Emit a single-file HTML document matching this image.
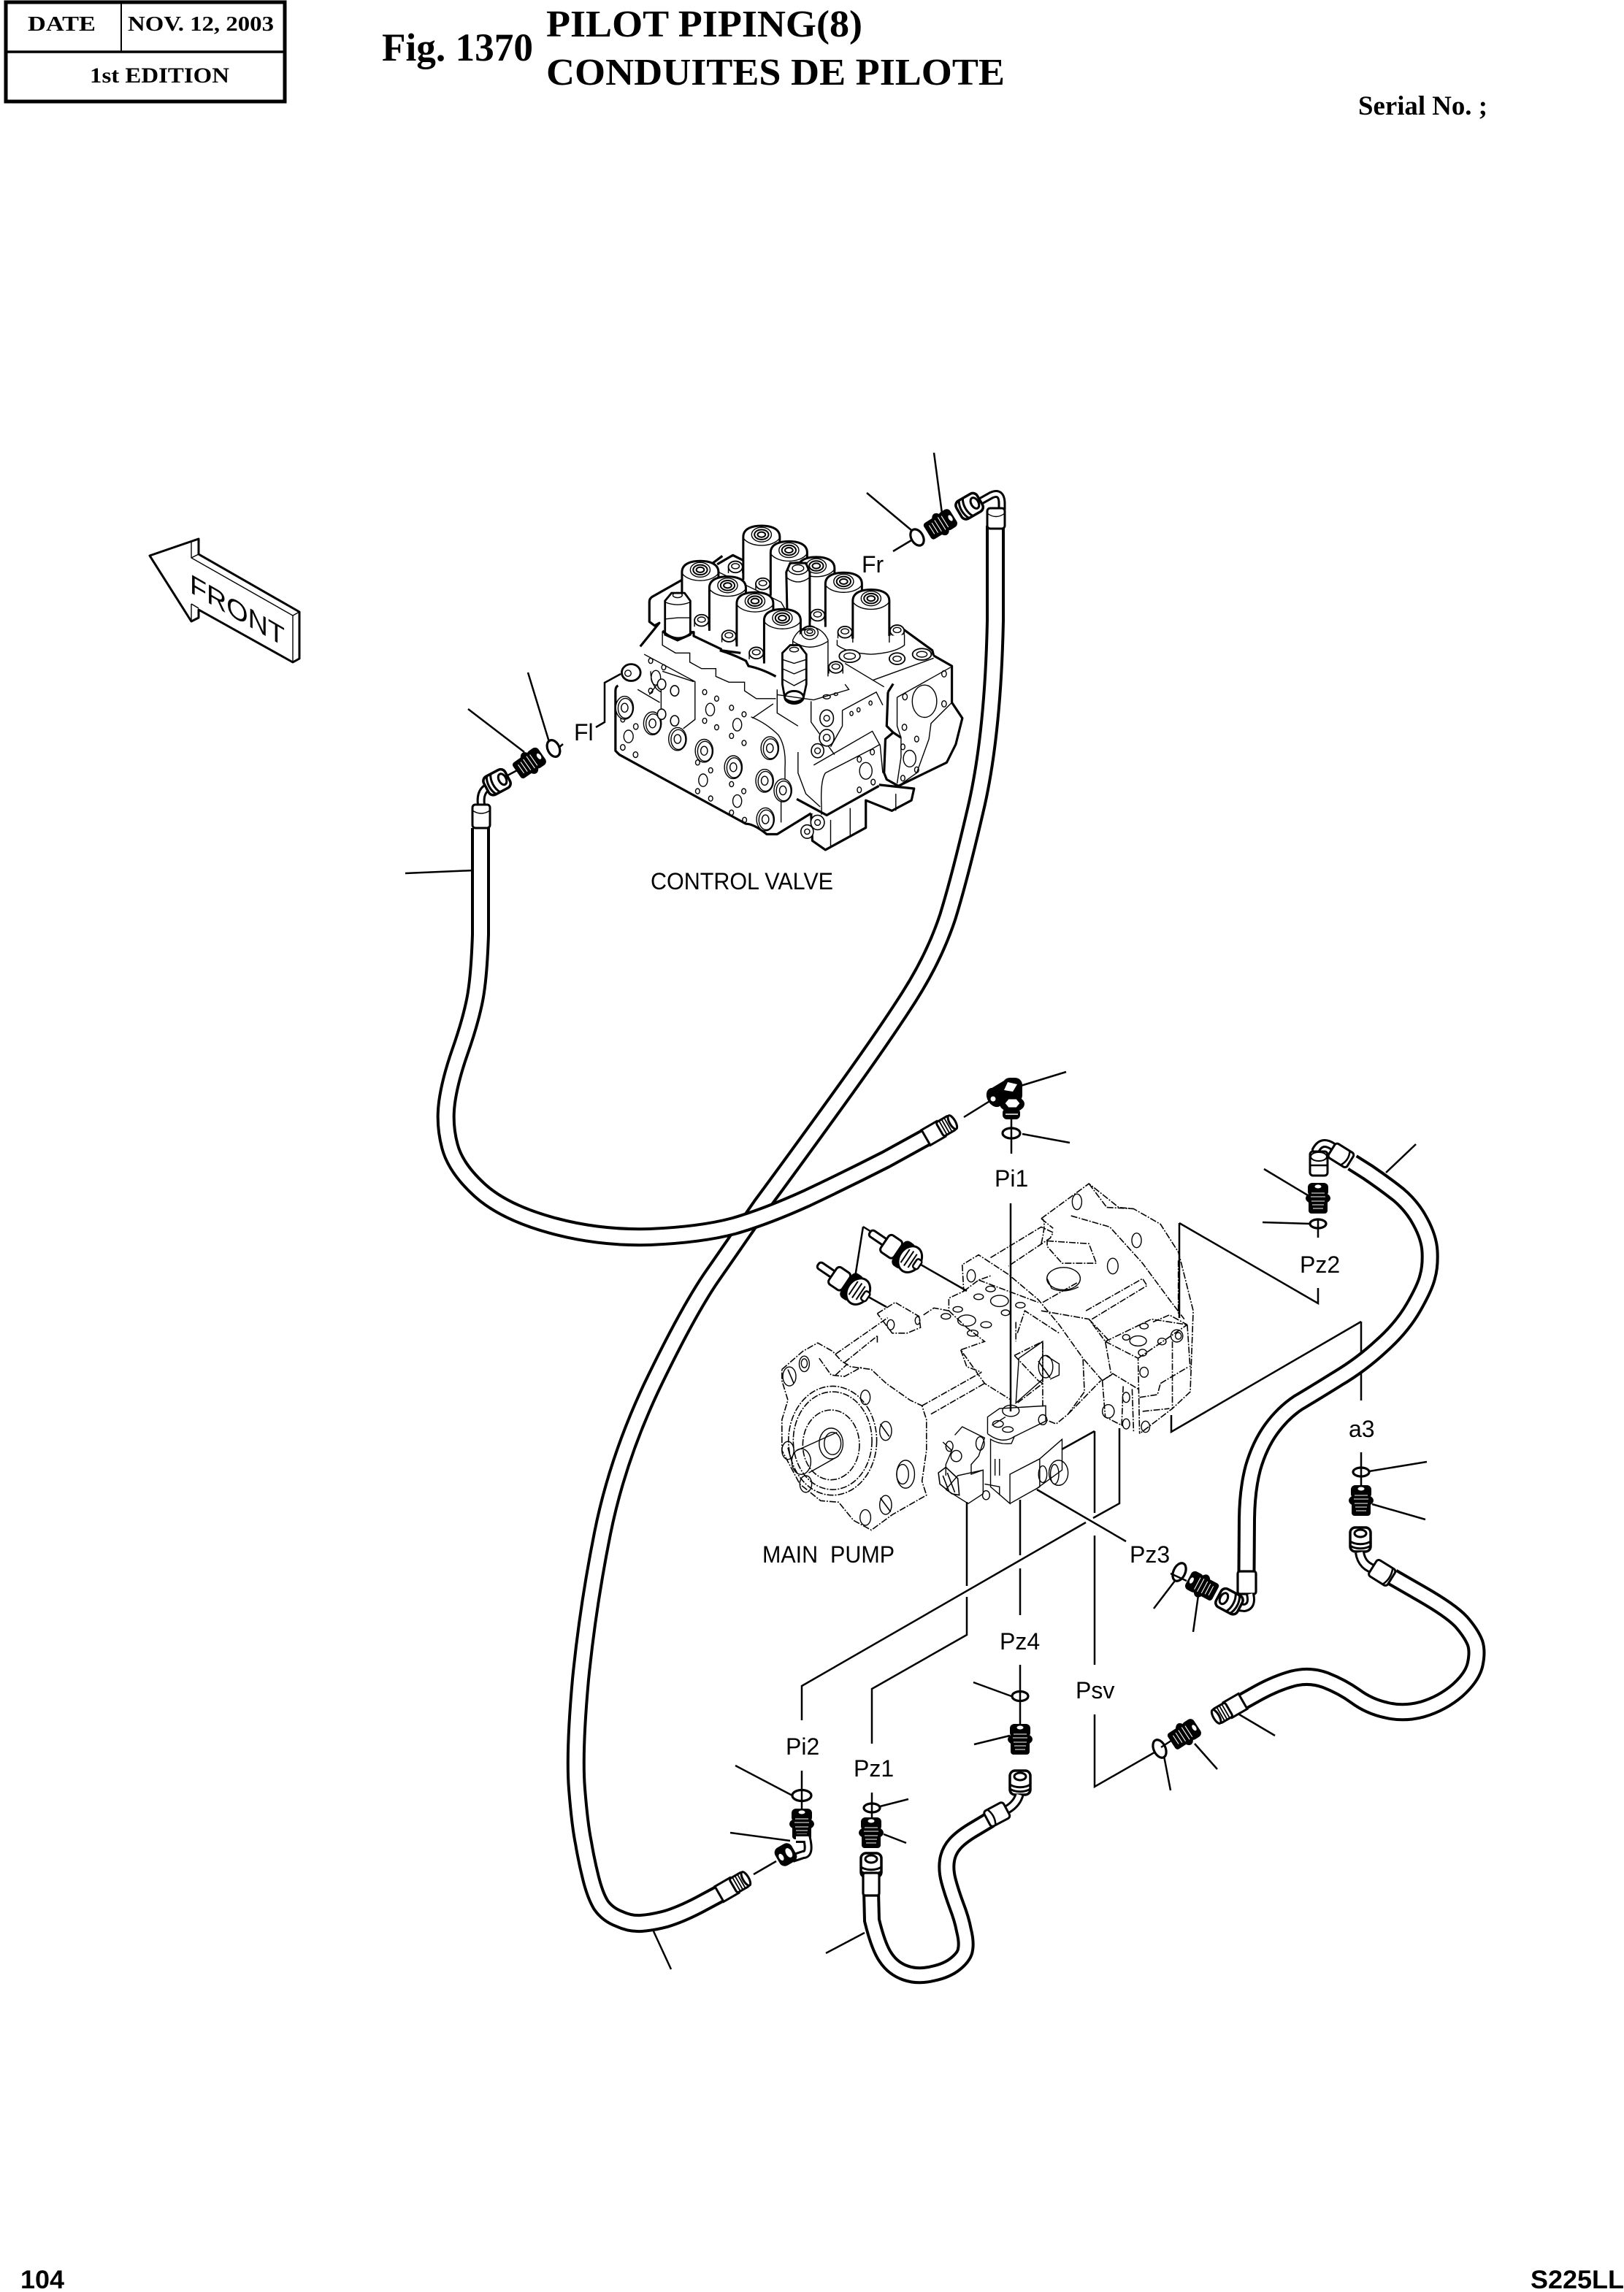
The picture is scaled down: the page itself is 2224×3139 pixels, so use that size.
<!DOCTYPE html>
<html><head><meta charset="utf-8"><title>Fig. 1370 Pilot Piping</title>
<style>
html,body{margin:0;padding:0;background:#fff}
svg{display:block}
.ser{font-family:"Liberation Serif",serif;font-weight:bold;fill:#000}
.san{font-family:"Liberation Sans",sans-serif;fill:#000;font-size:32px}
.l{stroke:#000;stroke-width:2.5;fill:none}
.n *,#sol *,#blt *,#big *{vector-effect:non-scaling-stroke}
.t{stroke:#000;stroke-width:1.4;fill:none}
.th{stroke:#000;stroke-width:3.2;fill:none;stroke-linejoin:round}
.d{stroke:#000;stroke-width:1.6;fill:none;stroke-dasharray:9 2 2 2}
.o{stroke:#000;stroke-width:3.2;fill:none}
.hb{stroke:#000;fill:none}
.hw{stroke:#fff;fill:none}
.w{fill:#fff !important}
</style></head><body>
<svg xmlns="http://www.w3.org/2000/svg" width="2224" height="3139" viewBox="0 0 2224 3139">
<defs>
<g id="nip">
<rect x="-14" y="-21" width="28" height="18" rx="6" fill="#000"/>
<ellipse cx="0" cy="-16" rx="4.5" ry="2.5" fill="#fff"/>
<ellipse cx="0" cy="0" rx="17" ry="9" fill="#000"/>
<rect x="-13" y="2" width="26" height="19" rx="4" fill="#000"/>
<path d="M-9,-7 H9 M-10,-2 H10 M-9,4 H9 M-8,9 H8 M-7,14 H7" stroke="#fff" stroke-width="1.1" fill="none"/>
</g>
<g id="cap">
<rect x="-14" y="-16" width="28" height="33" rx="7" fill="#fff" stroke="#000" stroke-width="3.5"/>
<ellipse cx="0" cy="-8" rx="8" ry="5" fill="#fff" stroke="#000" stroke-width="3"/>
<path d="M-14,3 C-6,8 6,8 14,3 M-14,9 C-6,14 6,14 14,9" stroke="#000" stroke-width="3" fill="none"/>
</g>
<g id="fer">
<rect x="0" y="-12" width="24" height="24" fill="#fff" stroke="#000" stroke-width="3"/>
<rect x="22" y="-11" width="20" height="22" rx="3" fill="#fff" stroke="#000" stroke-width="3"/>
<path d="M27,-11 V11 M31,-11 V11 M35,-11 V11" stroke="#000" stroke-width="1.8"/>
<ellipse cx="42" cy="0" rx="4" ry="10.5" fill="#fff" stroke="#000" stroke-width="3"/>
</g>
<g id="sol">
<path d="M-70,170 L-70,5 C-70,-30 -30,-38 0,-38 C30,-38 70,-30 70,5 L70,170 Z" fill="#fff"/>
<path d="M-70,170 L-70,5 C-70,-30 -30,-38 0,-38 C30,-38 70,-30 70,5 L70,170" fill="none" stroke="#000" stroke-width="3"/>
<path d="M-68,12 C-40,46 40,46 68,12" class="t"/>
<ellipse cx="0" cy="-4" rx="38" ry="28" class="t"/>
<ellipse cx="0" cy="-4" rx="27" ry="19" class="t" style="stroke-width:2"/>
<ellipse cx="0" cy="-4" rx="15" ry="10" class="t" style="stroke-width:2"/>
</g>
<g id="blt">
<ellipse cx="0" cy="0" rx="27" ry="22" fill="#fff" stroke="#000" stroke-width="1.8"/>
<ellipse cx="0" cy="-3" rx="15" ry="10" class="t"/>
<path d="M-27,0 V24 M27,0 V24" class="t"/>
</g>
<g id="big">
<ellipse cx="0" cy="0" rx="34" ry="44" fill="#fff" stroke="#000" stroke-width="1.4"/>
<ellipse cx="3" cy="2" rx="28" ry="38" class="t"/>
<ellipse cx="0" cy="0" rx="13" ry="17" class="t"/>
</g>
</defs>

<!-- header -->
<rect x="8" y="3" width="382" height="136" fill="none" stroke="#000" stroke-width="5"/>
<path d="M6,71 H392" stroke="#000" stroke-width="3.5"/>
<path d="M166,3 V71" stroke="#000" stroke-width="2"/>
<text class="ser" x="38" y="42" font-size="29" textLength="93" lengthAdjust="spacingAndGlyphs">DATE</text>
<text class="ser" x="175" y="42" font-size="29" textLength="200" lengthAdjust="spacingAndGlyphs">NOV.  12, 2003</text>
<text class="ser" x="123" y="113" font-size="30" textLength="191" lengthAdjust="spacingAndGlyphs">1st EDITION</text>
<text class="ser" x="523" y="83" font-size="54" textLength="207" lengthAdjust="spacingAndGlyphs">Fig. 1370</text>
<text class="ser" x="748" y="50" font-size="52" textLength="433" lengthAdjust="spacingAndGlyphs">PILOT PIPING(8)</text>
<text class="ser" x="748" y="116" font-size="52" textLength="628" lengthAdjust="spacingAndGlyphs">CONDUITES DE PILOTE</text>
<text class="ser" x="1860" y="157" font-size="37" textLength="177" lengthAdjust="spacingAndGlyphs">Serial No. ;</text>
<text class="san" x="28" y="3134" style="font-weight:bold;font-size:35px" textLength="60" lengthAdjust="spacingAndGlyphs">104</text>
<text class="san" x="2096" y="3134" style="font-weight:bold;font-size:35px" textLength="128" lengthAdjust="spacingAndGlyphs">S225LL</text>

<!-- FRONT arrow -->
<path d="M205,761 L272,738 V759 L410,838 V902 L401,907 L272,835 V846 L262,851 Z" fill="#fff" stroke="#000" stroke-width="3" stroke-linejoin="round"/>
<path d="M262,741 V764 L401,843 V907 M401,843 L410,838 M262,764 L272,759 M262,827 V851 M262,827 L272,833" class="t"/>
<text class="san" transform="matrix(.866 .5 0 1 260 811)" style="font-size:37px" textLength="150" lengthAdjust="spacingAndGlyphs">FRONT</text>

<!-- control valve, coordinates from 2.8x crop -->
<g class="n" transform="translate(800,680) scale(.35714)">
<path d="M870,1215 L875,1320 L925,1355 L1080,1270 V1165 L1180,1205 L1255,1165 L1265,1120 L1080,1100 Z" class="th w"/>
<path d="M945,1240 V1345 M1020,1195 V1300 M1195,1140 V1205" class="t"/>
<path d="M1150,640 L1340,610 L1410,650 V790 L1450,850 L1425,950 L1390,1020 L1205,1110 L1160,1085 L1150,1060 L1155,930 L1145,800 Z" class="w"/>
<path d="M1340,610 L1410,650 V790 L1450,850 L1425,950 L1390,1020 L1205,1110 L1160,1085 L1150,1060 L1155,930 L1185,905 L1215,925 M1165,750 L1160,880 L1185,905 M1165,750 L1185,718" class="th"/>
<path d="M375,320 L260,385 L250,395 V480 L270,495 L215,575 L135,650 L120,735 V975 L135,990 L620,1255 L700,1300 L740,1295 L870,1215 L930,1222 L1130,1110 L1145,1000 V760 L1225,510 L1000,380 L600,240 L570,225 L510,260 Z" class="w"/>
<path d="M375,320 L260,385 Q250,392 250,405 V480 L270,495 L288,485 L215,575 M130,725 Q120,730 120,745 V975 L135,990 L620,1255 Q650,1255 700,1295 L740,1295 L870,1215 M815,1160 L930,1222 L1130,1110 M480,265 L530,228 M510,260 L570,225 L610,245 M1225,510 L1335,590 L1340,610" class="th"/>
<path d="M505,285 L755,405 L775,440" class="t"/>
<use href="#blt" x="580" y="270"/><use href="#sol" x="680" y="150"/><use href="#blt" x="685" y="335"/>
<use href="#sol" x="785" y="210"/><use href="#sol" x="890" y="270"/>
<path d="M775,290 L790,255 H850 L865,290 V510 H780 Z" fill="#fff" stroke="#000" stroke-width="3"/>
<ellipse cx="820" cy="275" rx="38" ry="24" class="t"/><ellipse cx="820" cy="275" rx="22" ry="13" class="t"/>
<path d="M775,310 Q820,345 865,310" class="t"/>
<use href="#blt" x="895" y="455"/>
<use href="#sol" x="995" y="330"/>
<use href="#blt" x="1000" y="520"/><use href="#blt" x="1200" y="515"/>
<use href="#sol" x="1100" y="395"/>
<path d="M970,550 V570 Q1010,600 1100,605 Q1190,600 1228,570 V530" class="t w"/>
<path d="M1030,395 V560 M1170,395 V560" class="t"/>
<ellipse cx="1018" cy="612" rx="40" ry="24" fill="#fff" stroke="#000" stroke-width="1.8"/><ellipse cx="1018" cy="612" rx="22" ry="12" class="t"/>
<ellipse cx="1200" cy="622" rx="30" ry="22" fill="#fff" stroke="#000" stroke-width="1.8"/><ellipse cx="1200" cy="622" rx="16" ry="10" class="t"/>
<ellipse cx="1295" cy="605" rx="36" ry="22" fill="#fff" stroke="#000" stroke-width="1.8"/><ellipse cx="1295" cy="605" rx="20" ry="11" class="t"/>
<use href="#sol" x="445" y="285"/>
<path d="M300,520 V570 L350,600 H405 V635 L450,660 H505 V690 L555,712 H615 V745 L660,775 H735" class="t"/>
<use href="#blt" x="450" y="475"/>
<path d="M300,520 L420,520 L420,535 L525,585 V590 L600,600" class="th"/>
<use href="#sol" x="550" y="345"/><use href="#blt" x="555" y="535"/>
<path d="M520,590 Q570,605 620,630 L630,650 Q680,660 735,690" class="th"/>
<use href="#sol" x="655" y="405"/><use href="#blt" x="660" y="600"/>
<use href="#sol" x="760" y="470"/>
<g><path d="M800,550 L865,500 L935,550 V690 H800 Z" fill="#fff"/><path d="M800,690 V550 Q820,505 865,498 Q915,505 935,550 V690" class="t"/><ellipse cx="865" cy="522" rx="32" ry="26" class="t"/><ellipse cx="865" cy="520" rx="20" ry="14" class="t"/><ellipse cx="865" cy="518" rx="11" ry="7" class="t"/><path d="M800,555 Q865,600 935,555" class="t"/></g>
<use href="#blt" x="965" y="655"/>
<path d="M310,400 L335,370 H385 L407,400 V530 L358,552 L310,530 Z" fill="#fff" stroke="#000" stroke-width="2.8"/>
<path d="M310,470 L358,465 L407,465 M310,405 Q358,425 407,405" class="t"/><ellipse cx="358" cy="378" rx="18" ry="10" class="t"/>
<path d="M300,515 Q358,570 415,520" class="th"/>
<path d="M760,600 L790,570 H825 L852,605 V720 L840,775 Q805,800 770,775 L760,720 Z" fill="#fff" stroke="#000" stroke-width="2.8"/>
<path d="M760,660 L805,680 L852,660 M760,700 L805,725 L852,700 M760,625 L805,640 L852,625" class="t"/><ellipse cx="805" cy="587" rx="17" ry="9" class="t"/>
<ellipse cx="805" cy="770" rx="36" ry="24" fill="none" stroke="#000" stroke-width="2.8"/>
<ellipse cx="180" cy="675" rx="36" ry="32" fill="#fff" stroke="#000" stroke-width="2.8"/><circle cx="168" cy="678" r="12" class="t"/>
<path d="M230,605 L425,710 V855 L380,890 M300,670 L420,710 M250,760 L295,700 M295,700 V830 M255,670 Q255,730 295,750 M205,740 L290,790 M645,850 L725,795 M740,740 V830 L820,880 M740,760 L880,780 L1015,740 L1000,720 M1000,640 L1150,730 M1105,705 L1340,620 M990,820 L1120,750 L1145,800 M990,820 V880 L945,960 M870,785 V865 L960,990 M880,1030 L1105,900 L1135,955 L1145,1060 M925,1060 Q905,1090 910,1190 V1220 M925,1060 L1100,970 L1135,950 M820,980 V1060 L850,1140 L905,1190 M1200,770 L1405,655 M1200,770 V880 L1215,925 V1000 L1200,1100" class="t"/>
<path d="M640,845 Q700,870 745,915 Q775,960 770,1040 V1100 M755,1165 V1250 M1410,790 L1330,870 L1322,930 L1275,1060 L1205,1110" class="t"/>
<g class="t">
<ellipse cx="170" cy="920" rx="18" ry="24"/><ellipse cx="148" cy="962" rx="9" ry="11"/><ellipse cx="197" cy="990" rx="9" ry="11"/><ellipse cx="198" cy="882" rx="9" ry="11"/><ellipse cx="148" cy="855" rx="8" ry="10"/>
<ellipse cx="462" cy="750" rx="8" ry="10"/><ellipse cx="508" cy="775" rx="8" ry="10"/><ellipse cx="565" cy="810" rx="8" ry="10"/><ellipse cx="613" cy="835" rx="8" ry="10"/><ellipse cx="483" cy="817" rx="17" ry="24"/><ellipse cx="587" cy="875" rx="17" ry="24"/><ellipse cx="462" cy="860" rx="8" ry="10"/><ellipse cx="508" cy="885" rx="8" ry="10"/><ellipse cx="565" cy="918" rx="8" ry="10"/><ellipse cx="613" cy="945" rx="8" ry="10"/>
<ellipse cx="435" cy="1020" rx="8" ry="10"/><ellipse cx="485" cy="1050" rx="8" ry="10"/><ellipse cx="456" cy="1088" rx="17" ry="24"/><ellipse cx="565" cy="1103" rx="8" ry="10"/><ellipse cx="612" cy="1130" rx="8" ry="10"/><ellipse cx="435" cy="1130" rx="8" ry="10"/><ellipse cx="485" cy="1158" rx="8" ry="10"/><ellipse cx="587" cy="1168" rx="17" ry="24"/><ellipse cx="565" cy="1212" rx="8" ry="10"/><ellipse cx="615" cy="1240" rx="8" ry="10"/>
<ellipse cx="255" cy="630" rx="8" ry="10"/><ellipse cx="305" cy="655" rx="8" ry="10"/><ellipse cx="255" cy="745" rx="8" ry="10"/><ellipse cx="275" cy="695" rx="18" ry="28"/>
<ellipse cx="1305" cy="785" rx="47" ry="62"/><ellipse cx="1380" cy="680" rx="9" ry="12"/><ellipse cx="1230" cy="768" rx="9" ry="12"/><ellipse cx="1380" cy="795" rx="9" ry="12"/><ellipse cx="1228" cy="885" rx="9" ry="12"/><ellipse cx="1275" cy="930" rx="8" ry="11"/><ellipse cx="1222" cy="960" rx="8" ry="11"/><ellipse cx="1248" cy="1005" rx="24" ry="32"/><ellipse cx="1275" cy="1048" rx="8" ry="11"/><ellipse cx="1222" cy="1080" rx="8" ry="11"/>
<ellipse cx="1025" cy="832" rx="6" ry="8"/><ellipse cx="1052" cy="818" rx="6" ry="8"/><ellipse cx="1098" cy="792" rx="6" ry="8"/><ellipse cx="1055" cy="1008" rx="8" ry="11"/><ellipse cx="1105" cy="980" rx="8" ry="11"/><ellipse cx="1080" cy="1052" rx="24" ry="32"/><ellipse cx="1055" cy="1125" rx="8" ry="11"/><ellipse cx="1108" cy="1095" rx="8" ry="11"/><ellipse cx="930" cy="768" rx="14" ry="8"/><ellipse cx="965" cy="758" rx="7" ry="5"/>
</g>
<use href="#big" x="155" y="810"/><use href="#big" x="262" y="870"/><use href="#big" x="358" y="930"/><use href="#big" x="460" y="975"/><use href="#big" x="572" y="1038"/><use href="#big" x="712" y="965"/><use href="#big" x="692" y="1090"/><use href="#big" x="762" y="1127"/><use href="#big" x="695" y="1238"/>
<ellipse cx="930" cy="850" rx="26" ry="32" fill="#fff" stroke="#000" stroke-width="1.6"/><circle cx="930" cy="850" r="11" class="t"/>
<ellipse cx="930" cy="925" rx="28" ry="32" fill="#fff" stroke="#000" stroke-width="1.6"/><circle cx="930" cy="925" r="13" class="t"/>
<ellipse cx="895" cy="975" rx="24" ry="27" fill="#fff" stroke="#000" stroke-width="1.6"/><circle cx="895" cy="975" r="11" class="t"/>
<ellipse cx="895" cy="1250" rx="26" ry="28" fill="#fff" stroke="#000" stroke-width="1.6"/><circle cx="895" cy="1250" r="11" class="t"/>
<ellipse cx="855" cy="1285" rx="24" ry="26" fill="#fff" stroke="#000" stroke-width="1.6"/><circle cx="855" cy="1285" r="10" class="t"/>
<ellipse cx="297" cy="720" rx="16" ry="20" fill="#fff" stroke="#000" stroke-width="1.6"/><ellipse cx="347" cy="745" rx="16" ry="20" fill="#fff" stroke="#000" stroke-width="1.6"/><ellipse cx="297" cy="835" rx="16" ry="20" fill="#fff" stroke="#000" stroke-width="1.6"/><ellipse cx="347" cy="860" rx="16" ry="20" fill="#fff" stroke="#000" stroke-width="1.6"/>
</g>

<!-- main pump, coordinates from crop (x*.408,y*.3827) -->
<g class="n" transform="translate(1030,1600) scale(.40816,.38265)">
<g class="d">
<path d="M100,720 L170,655 L220,625 L270,655 L300,690 L330,710 L400,720 L450,770 L530,830 L570,850 L585,900 V1010 L570,1120 L585,1170 L470,1240 L400,1295 L340,1260 L290,1195 L230,1190 L160,1130 L100,1010 V900 L120,830 L100,760 Z"/>
<ellipse cx="270" cy="975" rx="148" ry="195"/><ellipse cx="270" cy="975" rx="132" ry="175"/><ellipse cx="265" cy="990" rx="95" ry="125"/>
<path d="M280,665 L455,535 M310,695 L420,600 M420,600 V625 M225,680 L265,740 L310,745 L370,710 M280,740 L320,700"/>
<path d="M420,520 L480,480 L560,530 L565,570 L520,590 L470,590 L420,520 M575,525 L610,500 L660,510 L660,465 L710,440 L705,345 L760,310 L860,380 L960,470 L1030,560 L1110,680 L1115,800 L1060,880 L1020,915 L985,900"/>
<path d="M660,510 L720,570 L780,620 L700,650 L780,770 L870,830 M700,650 L720,710 L770,730 M570,850 L770,730 M600,880 L780,770"/>
<path d="M710,440 L760,400 L800,385 M760,400 L960,480 M880,670 L975,620 V770 L890,840 M880,670 L960,760 M960,760 L975,770 V855 M890,590 L915,510 L1030,590 M885,550 V620"/>
<path d="M800,320 L970,210 L1010,230 L1000,250 L860,350 M970,180 L1010,215 M970,180 L1130,55 L1230,140 L1280,145 L1370,200 L1430,300 L1440,340 L1480,510 L1470,800 L1410,860 L1300,950 M970,270 Q990,180 970,180"/>
<path d="M990,260 L1130,270 L1155,340 L1040,340 L990,280 Z M1190,140 L1280,145 M1130,55 L1190,140 M1070,170 L1200,210 L1310,340 L1400,470 L1450,540 M1120,510 L1310,395 L1325,420 L1140,540"/>
<path d="M975,480 L1090,410 M970,510 L1130,540 L1185,620 L1205,740 L1175,760 L1110,680 M1060,880 L1170,760 M1130,540 L1200,620 M1185,620 L1340,540 L1460,560 L1470,720 M1185,620 L1295,680 L1300,950 M1295,680 L1460,560 M1175,760 L1210,735 L1295,790 M1175,760 L1185,890 L1240,920 L1245,780 M1275,790 L1280,945 M1410,620 V860 M1370,770 L1465,710 M1300,820 L1360,810 L1370,770 M1345,550 L1400,525 L1460,560 M1310,870 L1400,860 M1430,330 V520"/>
</g>
<g class="t">
<ellipse cx="175" cy="700" rx="17" ry="28"/><ellipse cx="125" cy="745" rx="22" ry="34"/><ellipse cx="120" cy="1010" rx="20" ry="32"/><ellipse cx="180" cy="1130" rx="20" ry="30"/><ellipse cx="380" cy="1250" rx="18" ry="28"/><ellipse cx="380" cy="820" rx="16" ry="26"/>
<ellipse cx="448" cy="940" rx="20" ry="34"/><ellipse cx="448" cy="1205" rx="20" ry="34"/><ellipse cx="515" cy="1095" rx="30" ry="50"/><ellipse cx="505" cy="1095" rx="20" ry="35"/>
<ellipse cx="165" cy="1050" rx="32" ry="46"/><path d="M150,1010 L285,945 M190,1090 L290,1030"/><ellipse cx="265" cy="985" rx="40" ry="55"/><ellipse cx="270" cy="985" rx="28" ry="40"/>
<ellipse cx="1090" cy="120" rx="16" ry="28"/><ellipse cx="1290" cy="258" rx="16" ry="26"/><ellipse cx="1210" cy="350" rx="18" ry="28"/><ellipse cx="735" cy="385" rx="14" ry="22"/><ellipse cx="175" cy="698" rx="10" ry="16"/>
<ellipse cx="1045" cy="395" rx="56" ry="40"/><path d="M990,395 L1005,430 Q1045,450 1095,425"/>
<ellipse cx="800" cy="432" rx="16" ry="10"/><ellipse cx="760" cy="460" rx="16" ry="10"/><ellipse cx="830" cy="475" rx="30" ry="20"/><ellipse cx="690" cy="505" rx="16" ry="10"/><ellipse cx="900" cy="490" rx="16" ry="10"/><ellipse cx="720" cy="545" rx="30" ry="20"/><ellipse cx="650" cy="530" rx="16" ry="10"/><ellipse cx="785" cy="560" rx="18" ry="11"/><ellipse cx="740" cy="590" rx="18" ry="11"/><ellipse cx="850" cy="517" rx="14" ry="10"/>
<ellipse cx="1255" cy="605" rx="12" ry="10"/><ellipse cx="1295" cy="618" rx="28" ry="18"/><ellipse cx="1310" cy="660" rx="14" ry="12"/><ellipse cx="1375" cy="620" rx="14" ry="12"/><ellipse cx="1315" cy="565" rx="14" ry="10"/><ellipse cx="1425" cy="600" rx="20" ry="22"/><ellipse cx="1315" cy="730" rx="14" ry="18"/><ellipse cx="1255" cy="820" rx="12" ry="18"/><ellipse cx="1255" cy="915" rx="12" ry="18"/><ellipse cx="1320" cy="925" rx="14" ry="20"/><ellipse cx="1195" cy="870" rx="20" ry="24"/><ellipse cx="1430" cy="600" rx="10" ry="12"/>
<path d="M895,680 L975,620 V755 L885,840 Z"/><ellipse cx="985" cy="710" rx="24" ry="40"/><path d="M985,670 L1030,700 V740 L1000,755"/>
<ellipse cx="465" cy="560" rx="12" ry="18"/><ellipse cx="555" cy="545" rx="8" ry="14"/>
</g>
<g class="t">
<path d="M790,950 V890 L830,860 L985,850 V905 L880,960 Q840,990 790,950 M805,920 L850,890 M880,960 L870,985 Q830,990 800,970 V1140 L865,1200 V1095 L965,1040 V1140 L865,1200 M965,1040 L1040,970 V1080 L950,1150 M780,1130 L830,1140 V1170 M815,1040 V1100 M830,1040 V1100"/>
<ellipse cx="868" cy="868" rx="28" ry="20"/><ellipse cx="825" cy="915" rx="18" ry="12"/><ellipse cx="858" cy="935" rx="18" ry="10"/><ellipse cx="975" cy="900" rx="14" ry="18"/>
<path d="M680,955 L705,925 L780,965 L760,1030 L735,1060 V1095 L775,1080 V1165 L725,1200 L650,1150 M650,1150 L690,1100 L775,1080 M640,980 L670,1010 L650,1060 V1100"/>
<ellipse cx="765" cy="985" rx="14" ry="24"/><ellipse cx="662" cy="995" rx="12" ry="18"/><ellipse cx="685" cy="1030" rx="18" ry="20"/><ellipse cx="785" cy="1170" rx="12" ry="16"/><ellipse cx="1028" cy="1090" rx="32" ry="45"/><ellipse cx="1015" cy="1095" rx="14" ry="35"/><ellipse cx="975" cy="1095" rx="14" ry="30"/>
</g>
<g stroke="#000" stroke-width="1.6" fill="none">
<path d="M625,1090 L650,1070 L690,1110 L695,1170 L670,1165 L630,1130 Z M640,1100 L660,1155 M655,1090 L680,1160 M120,1000 L130,1040 M120,720 L140,770 M430,915 L460,960 M430,1180 L465,1230 M960,690 L1000,750"/>
</g>
</g>

<!-- pump sensors -->
<g>
<path d="M1182,1680 L1171,1749 M1182,1680 L1214,1700 M1261,1732 L1324,1768 M1189,1776 L1214,1790" class="l"/>
<g transform="translate(1238,1719) rotate(34)">
<rect x="-56" y="-5" width="26" height="10" rx="4" fill="#fff" stroke="#000" stroke-width="3"/>
<rect x="-32" y="-14" width="22" height="28" rx="5" fill="#fff" stroke="#000" stroke-width="3"/>
<rect x="-10" y="-20" width="18" height="40" rx="7" fill="#000"/>
<ellipse cx="10" cy="0" rx="15" ry="19" fill="#fff" stroke="#000" stroke-width="3"/>
<path d="M2,-11 V11 M8,-12 V12 M14,-11 V11" stroke="#000" stroke-width="2"/>
<rect x="18" y="-7" width="8" height="14" rx="3" fill="#fff" stroke="#000" stroke-width="2.5"/>
</g>
<g transform="translate(1167,1763) rotate(34)">
<rect x="-56" y="-5" width="26" height="10" rx="4" fill="#fff" stroke="#000" stroke-width="3"/>
<rect x="-32" y="-14" width="22" height="28" rx="5" fill="#fff" stroke="#000" stroke-width="3"/>
<rect x="-10" y="-20" width="18" height="40" rx="7" fill="#000"/>
<ellipse cx="10" cy="0" rx="15" ry="19" fill="#fff" stroke="#000" stroke-width="3"/>
<path d="M2,-11 V11 M8,-12 V12 M14,-11 V11" stroke="#000" stroke-width="2"/>
<rect x="18" y="-7" width="8" height="14" rx="3" fill="#fff" stroke="#000" stroke-width="2.5"/>
</g>
</g>

<!-- leader / port lines -->
<path class="l" d="M1187,675 L1248,726 M1223,755 L1248,740 M1279,620 L1290,703
M723,921 L752,1016 M641,971 L718,1030 M555,1196 L649,1192 M765,1024 L771,1019 M695,1062 L710,1054
M816,996 L828,989 V935 L850,923
M1398,1487 L1460,1468 M1400,1553 L1465,1565 M1385,1533 V1580 M1384,1648 V1933 M1357,1507 L1320,1530
M1098,2356 V2309 L1487,2085 M1497,2079 L1533,2059 V1956
M1098,2425 V2480 M1007,2418 L1085,2459 M1000,2510 L1082,2521 M1032,2567 L1063,2549
M1194,2388 V2313 L1324,2239 V2187 M1324,2172 V2057 M1194,2455 V2490 M1205,2474 L1244,2464 M1210,2512 L1241,2524
M1397,2054 V2130 M1397,2148 V2212 M1397,2280 V2361 M1333,2304 L1385,2323 M1334,2389 L1383,2377
M1499,1960 V2072 M1499,2103 V2280 M1499,2348 V2447 L1581,2400 M1499,1960 L1454,1985
M1594,2405 L1603,2452 M1636,2388 L1667,2423 M1697,2348 L1746,2377 M1590,2393 L1610,2380
M1420,2040 L1542,2111 M1603,2155 L1625,2165 M1609,2165 L1580,2203 M1641,2185 L1634,2235
M1864,1810 L1604,1961 V1938 M1864,1810 V1918 M1864,1989 V2035 M1875,2015 L1954,2002 M1879,2060 L1952,2081
M1615,1675 L1805,1785 V1764 M1615,1675 V1805 M1805,1670 V1695 M1729,1674 L1795,1676 M1731,1601 L1791,1637 M1939,1567 L1898,1606
M895,2645 L919,2697 M1131,2675 L1184,2647"/>

<!-- hose A Fr to Pi2 (drawn under hose B) -->
<g>
<path class="hb" stroke-width="26" d="M1363,720 L1363,850 Q1360,1000 1338,1100 Q1315,1200 1298,1255 Q1280,1310 1245,1365 Q1210,1420 1145,1510 Q1080,1600 1043,1650 Q1006,1703 973,1751 Q940,1800 892,1900 Q845,2000 825,2100 Q805,2200 795,2300 Q786,2400 790,2450 Q794,2500 799,2524 Q803,2548 809,2572 Q815,2596 823,2609 Q832,2622 848,2628 Q863,2635 878,2634 Q893,2633 912,2628 Q932,2622 957,2609 L985,2594"/>
<path class="hw" stroke-width="18" d="M1363,720 L1363,850 Q1360,1000 1338,1100 Q1315,1200 1298,1255 Q1280,1310 1245,1365 Q1210,1420 1145,1510 Q1080,1600 1043,1650 Q1006,1703 973,1751 Q940,1800 892,1900 Q845,2000 825,2100 Q805,2200 795,2300 Q786,2400 790,2450 Q794,2500 799,2524 Q803,2548 809,2572 Q815,2596 823,2609 Q832,2622 848,2628 Q863,2635 878,2634 Q893,2633 912,2628 Q932,2622 957,2609 L985,2594"/>
</g>
<!-- hose B Fl to Pi1 -->
<g>
<path class="hb" stroke-width="26" d="M658,1134 L658,1280 Q656,1340 650,1370 Q644,1400 630,1440 Q616,1480 612,1510 Q608,1540 616,1570 Q624,1600 657,1630 Q690,1660 755,1678 Q820,1696 890,1694 Q960,1691 1005,1679 Q1050,1666 1105,1641 Q1160,1615 1213,1588 L1273,1555"/>
<path class="hw" stroke-width="18" d="M658,1134 L658,1280 Q656,1340 650,1370 Q644,1400 630,1440 Q616,1480 612,1510 Q608,1540 616,1570 Q624,1600 657,1630 Q690,1660 755,1678 Q820,1696 890,1694 Q960,1691 1005,1679 Q1050,1666 1105,1641 Q1160,1615 1213,1588 L1273,1555"/>
</g>
<!-- hose C Pz1 to Pz4 -->
<path class="hb" stroke-width="24" d="M1193,2590 L1194,2630 Q1203,2667 1213,2681 Q1223,2696 1240,2702 Q1257,2708 1277,2703 Q1297,2699 1309,2689 Q1321,2679 1322,2670 Q1324,2660 1320,2644 Q1317,2628 1310,2610 Q1303,2591 1299,2576 Q1295,2561 1297,2548 Q1299,2535 1308,2525 Q1317,2515 1336,2504 L1356,2492"/>
<path class="hw" stroke-width="16" d="M1193,2590 L1194,2630 Q1203,2667 1213,2681 Q1223,2696 1240,2702 Q1257,2708 1277,2703 Q1297,2699 1309,2689 Q1321,2679 1322,2670 Q1324,2660 1320,2644 Q1317,2628 1310,2610 Q1303,2591 1299,2576 Q1295,2561 1297,2548 Q1299,2535 1308,2525 Q1317,2515 1336,2504 L1356,2492"/>
<!-- hose D Pz2 to Pz3 -->
<path class="hb" stroke-width="25" d="M1852,1592 L1874,1606 Q1896,1621 1915,1636 Q1934,1652 1945,1673 Q1957,1695 1958,1714 Q1959,1734 1955,1748 Q1952,1762 1936,1790 Q1920,1818 1892,1843 Q1864,1869 1832,1888 Q1800,1908 1778,1921 Q1757,1935 1741,1957 Q1725,1979 1716,2010 Q1708,2040 1707.5,2080 L1707,2152"/>
<path class="hw" stroke-width="17" d="M1852,1592 L1874,1606 Q1896,1621 1915,1636 Q1934,1652 1945,1673 Q1957,1695 1958,1714 Q1959,1734 1955,1748 Q1952,1762 1936,1790 Q1920,1818 1892,1843 Q1864,1869 1832,1888 Q1800,1908 1778,1921 Q1757,1935 1741,1957 Q1725,1979 1716,2010 Q1708,2040 1707.5,2080 L1707,2152"/>
<!-- hose E a3 to Psv -->
<path class="hb" stroke-width="25" d="M1907,2160 L1947,2183 Q1987,2206 2001,2221 Q2015,2237 2020,2250 Q2024,2262 2020,2280 Q2016,2297 1996,2315 Q1975,2333 1948,2341 Q1922,2348 1898,2342 Q1875,2337 1856,2323 Q1838,2310 1815,2301 Q1793,2293 1770,2299 Q1748,2305 1724,2318 L1699,2332"/>
<path class="hw" stroke-width="17" d="M1907,2160 L1947,2183 Q1987,2206 2001,2221 Q2015,2237 2020,2250 Q2024,2262 2020,2280 Q2016,2297 1996,2315 Q1975,2333 1948,2341 Q1922,2348 1898,2342 Q1875,2337 1856,2323 Q1838,2310 1815,2301 Q1793,2293 1770,2299 Q1748,2305 1724,2318 L1699,2332"/>

<!-- hose ends -->
<use href="#fer" transform="translate(985,2594) rotate(-30)"/>
<use href="#fer" transform="translate(1268,1558) rotate(-30)"/>
<use href="#fer" transform="translate(1702,2330) rotate(150)"/>

<!-- Fr end -->
<path d="M1340,688 L1358,678 Q1372,672 1372,690 L1372,698" class="hb" stroke-width="11"/><path d="M1340,688 L1358,678 Q1372,672 1372,690 L1372,698" class="hw" stroke-width="5"/>
<rect x="1352" y="696" width="24" height="28" rx="4" fill="#fff" stroke="#000" stroke-width="3"/><path d="M1352,703 Q1364,712 1376,703" class="t"/>
<g transform="translate(1328,693) rotate(60)"><use href="#cap"/></g>
<g transform="translate(1288,718) rotate(58)"><use href="#nip"/></g>
<ellipse cx="1256" cy="736" rx="8" ry="12" fill="none" class="o" transform="rotate(-30 1256 736)"/>

<!-- Fl end -->
<path d="M660,1108 Q655,1085 668,1078 L682,1070" class="hb" stroke-width="12"/><path d="M660,1108 Q655,1085 668,1078 L682,1070" class="hw" stroke-width="6"/>
<rect x="647" y="1102" width="24" height="32" rx="4" fill="#fff" stroke="#000" stroke-width="3"/><path d="M647,1110 Q659,1118 671,1110" class="t"/>
<g transform="translate(681,1071) rotate(62)"><use href="#cap"/></g>
<g transform="translate(725,1045) rotate(55)"><use href="#nip"/></g>
<ellipse cx="758" cy="1025" rx="8" ry="12" fill="none" class="o" transform="rotate(-25 758 1025)"/>

<!-- Pi1 -->
<g>
<rect x="1373" y="1476" width="27" height="34" rx="10" fill="#000"/>
<path d="M1355,1492 L1380,1477 L1392,1500 L1368,1515 Z" fill="#000"/>
<ellipse cx="1362" cy="1503" rx="10" ry="14" fill="#000" transform="rotate(-30 1362 1503)"/>
<path d="M1375,1493 L1380,1482 L1393,1485 L1387,1495 Z" fill="#fff"/>
<circle cx="1360" cy="1505" r="3.5" fill="#fff"/>
<ellipse cx="1386" cy="1512" rx="17" ry="11" fill="#000"/>
<rect x="1373" y="1518" width="24" height="15" rx="6" fill="#000"/>
<path d="M1376,1511 L1381,1505 H1392 L1397,1511 L1392,1517 H1381 Z" fill="#fff" stroke="#000" stroke-width="1"/>
<path d="M1377,1526 H1394" stroke="#fff" stroke-width="1.5"/>
</g>
<ellipse cx="1385" cy="1552" rx="12" ry="7" class="o"/>

<!-- Pi2 -->
<ellipse cx="1098" cy="2459" rx="13" ry="7.5" class="o"/>
<use href="#nip" transform="translate(1098,2498)"/>
<path d="M1090,2518 H1105 Q1110,2540 1100,2540 L1085,2545" class="hb" stroke-width="12"/>
<path d="M1090,2518 H1105 Q1110,2540 1100,2540 L1085,2545" class="hw" stroke-width="6"/>
<g transform="translate(1076,2540) rotate(60)"><rect x="-14" y="-13" width="28" height="26" rx="8" fill="#000"/><ellipse cx="0" cy="-5" rx="7" ry="4" fill="#fff"/><ellipse cx="0" cy="7" rx="5" ry="3" fill="#fff"/></g>

<!-- Pz1 -->
<ellipse cx="1194" cy="2476" rx="11" ry="6" class="o"/>
<use href="#nip" transform="translate(1193,2510)"/>
<use href="#cap" transform="translate(1193,2554)"/>
<rect x="1182" y="2565" width="22" height="31" rx="3" fill="#fff" stroke="#000" stroke-width="3.2"/>

<!-- Pz4 -->
<ellipse cx="1397" cy="2323" rx="11" ry="6.5" class="o"/>
<use href="#nip" transform="translate(1397,2382)"/>
<use href="#cap" transform="translate(1397,2441)"/>
<path d="M1396,2458 Q1392,2472 1376,2480" class="hb" stroke-width="13"/><path d="M1396,2458 Q1392,2472 1376,2480" class="hw" stroke-width="7"/>
<g transform="translate(1352,2492) rotate(-28)"><rect x="0" y="-12" width="30" height="24" rx="4" fill="#fff" stroke="#000" stroke-width="3"/><path d="M7,-11 Q12,0 7,11" class="l"/></g>

<!-- Pz2 -->
<ellipse cx="1805" cy="1676" rx="11" ry="6" class="o"/>
<use href="#nip" transform="translate(1805,1641)"/>
<path d="M1802,1592 V1575 Q1810,1560 1825,1570 L1838,1580" class="hb" stroke-width="12"/><path d="M1802,1592 V1575 Q1810,1560 1825,1570 L1838,1580" class="hw" stroke-width="6"/>
<rect x="1794" y="1577" width="24" height="33" rx="4" fill="#fff" stroke="#000" stroke-width="3"/><ellipse cx="1806" cy="1584" rx="11" ry="6" fill="#fff" stroke="#000" stroke-width="2"/><path d="M1794,1596 H1818" class="l"/>
<g transform="translate(1824,1574) rotate(32)"><rect x="0" y="-11" width="30" height="23" rx="4" fill="#fff" stroke="#000" stroke-width="3"/><path d="M22,-11 Q28,0 22,11" class="l"/></g>

<!-- Pz3 -->
<rect x="1695" y="2152" width="25" height="31" rx="3" fill="#fff" stroke="#000" stroke-width="3.2"/>
<path d="M1712,2183 Q1716,2200 1704,2202 L1686,2200" class="hb" stroke-width="12"/><path d="M1712,2183 Q1716,2200 1704,2202 L1686,2200" class="hw" stroke-width="6"/>
<g transform="translate(1683,2193) rotate(-62)"><use href="#cap"/></g>
<g transform="translate(1646,2172) rotate(-62)"><use href="#nip"/></g>
<ellipse cx="1615" cy="2153" rx="8" ry="13" fill="none" class="o" transform="rotate(25 1615 2153)"/>

<!-- a3 -->
<ellipse cx="1864" cy="2016" rx="11" ry="6" class="o"/>
<use href="#nip" transform="translate(1864,2055)"/>
<use href="#cap" transform="translate(1863,2108)"/>
<path d="M1862,2126 Q1865,2146 1885,2150" class="hb" stroke-width="14"/><path d="M1862,2126 Q1865,2146 1885,2150" class="hw" stroke-width="8"/>
<g transform="translate(1880,2146) rotate(32)"><rect x="0" y="-13" width="30" height="26" rx="4" fill="#fff" stroke="#000" stroke-width="3"/><path d="M24,-13 Q30,0 24,13" class="l"/></g>

<!-- Psv -->
<ellipse cx="1588" cy="2395" rx="8" ry="13" fill="none" class="o" transform="rotate(-25 1588 2395)"/>
<g transform="translate(1622,2375) rotate(57)"><use href="#nip"/></g>

<!-- labels -->
<g class="san">
<text x="1180" y="784">Fr</text>
<text x="786" y="1014">Fl</text>
<text x="891" y="1218" textLength="250" lengthAdjust="spacingAndGlyphs">CONTROL VALVE</text>
<text x="1044" y="2140" textLength="181" lengthAdjust="spacingAndGlyphs" xml:space="preserve">MAIN  PUMP</text>
<text x="1362" y="1625">Pi1</text>
<text x="1547" y="2140">Pz3</text>
<text x="1369" y="2259">Pz4</text>
<text x="1076" y="2403">Pi2</text>
<text x="1169" y="2433">Pz1</text>
<text x="1473" y="2326">Psv</text>
<text x="1780" y="1743">Pz2</text>
<text x="1847" y="1968">a3</text>
</g>
</svg>
</body></html>
